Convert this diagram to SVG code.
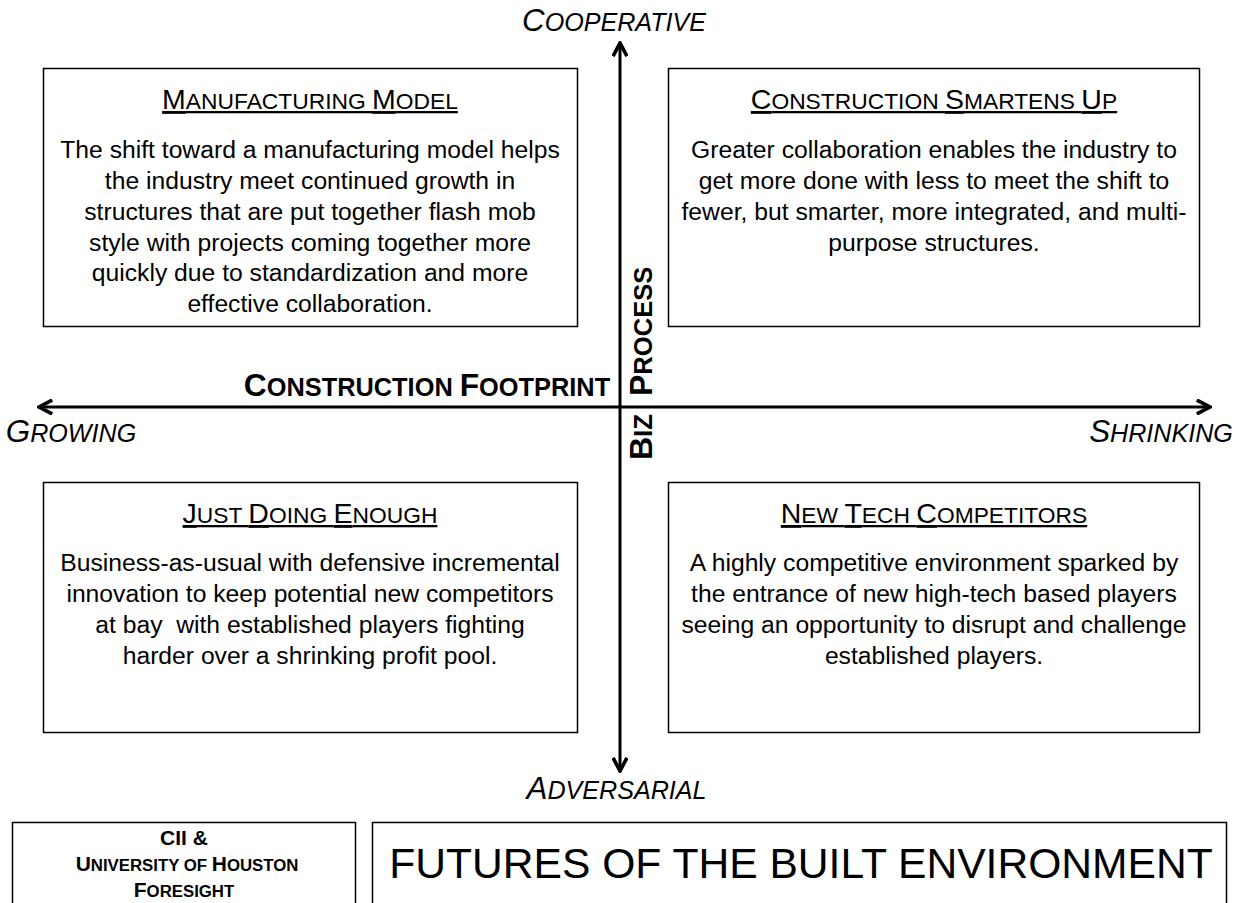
<svg xmlns="http://www.w3.org/2000/svg" width="1234" height="903" viewBox="0 0 1234 903">
<style>
text{font-family:"Liberation Sans",Arial,sans-serif;fill:#000;text-anchor:middle}
.box{fill:#fff;stroke:#000;stroke-width:1.5}
.body{font-size:24.7px;white-space:pre}
.head{font-size:28.5px;text-decoration:underline}
.axis{font-size:31.4px;font-style:italic}
.bold{font-size:31.7px;font-weight:bold}
.v{font-size:32px;font-weight:bold;text-anchor:start}
.small{font-size:21px;font-weight:bold}
.s{font-size:80%}
.conn{stroke:#000;stroke-width:3;fill:none;marker-start:url(#a);marker-end:url(#a)}
</style>
<defs>
<marker id="a" viewBox="0 0 10 10" refX="9" refY="5" markerWidth="5.5" markerHeight="5.5" orient="auto-start-reverse"><path d="M1 0.8L9 5L1 9.2" fill="none" stroke="#000" stroke-width="2.2"/></marker>
</defs>
<rect width="1234" height="903" fill="#fff"/>
<g id="connectors">
<line class="conn" x1="620" y1="43" x2="620" y2="771"/>
<line class="conn" x1="39" y1="407" x2="1210" y2="407"/>
</g>
<g id="axis-cooperative"><text class="axis" x="614" y="31">C<tspan class="s">OOPERATIVE</tspan></text></g>
<g id="axis-adversarial"><text class="axis" x="616.500" y="799">A<tspan class="s">DVERSARIAL</tspan></text></g>
<g id="axis-growing"><text class="axis" x="71" y="442">G<tspan class="s">ROWING</tspan></text></g>
<g id="axis-shrinking"><text class="axis" x="1161" y="442">S<tspan class="s">HRINKING</tspan></text></g>
<g id="axis-footprint"><text class="bold" x="427" y="396">C<tspan class="s">ONSTRUCTION </tspan>F<tspan class="s">OOTPRINT</tspan></text></g>
<g id="axis-process"><text class="v" transform="translate(652 460) rotate(-90)">B<tspan class="s">IZ</tspan></text><text class="v" transform="translate(652 396) rotate(-90)">P<tspan class="s">ROCESS</tspan></text></g>
<g id="manufacturing">
<rect class="box" x="43.500" y="68.500" width="534" height="258"/>
<text class="head" x="310" y="109">M<tspan class="s">ANUFACTURING </tspan>M<tspan class="s">ODEL</tspan></text>
<text class="body" x="310" y="158">The shift toward a manufacturing model helps</text>
<text class="body" x="310" y="189">the industry meet continued growth in</text>
<text class="body" x="310" y="220">structures that are put together flash mob</text>
<text class="body" x="310" y="251">style with projects coming together more</text>
<text class="body" x="310" y="281">quickly due to standardization and more</text>
<text class="body" x="310" y="312">effective collaboration.</text>
</g>
<g id="smartens">
<rect class="box" x="668.500" y="68.500" width="531" height="258"/>
<text class="head" x="934" y="109">C<tspan class="s">ONSTRUCTION </tspan>S<tspan class="s">MARTENS </tspan>U<tspan class="s">P</tspan></text>
<text class="body" x="934" y="158">Greater collaboration enables the industry to</text>
<text class="body" x="934" y="189">get more done with less to meet the shift to</text>
<text class="body" x="934" y="220">fewer, but smarter, more integrated, and multi-</text>
<text class="body" x="934" y="251">purpose structures.</text>
</g>
<g id="just-doing">
<rect class="box" x="43.500" y="482.500" width="534" height="250"/>
<text class="head" x="310" y="523">J<tspan class="s">UST </tspan>D<tspan class="s">OING </tspan>E<tspan class="s">NOUGH</tspan></text>
<text class="body" x="310" y="571">Business-as-usual with defensive incremental</text>
<text class="body" x="310" y="602">innovation to keep potential new competitors</text>
<text class="body" x="310" y="633">at bay  with established players fighting</text>
<text class="body" x="310" y="664">harder over a shrinking profit pool.</text>
</g>
<g id="new-tech">
<rect class="box" x="668.500" y="482.500" width="531" height="250"/>
<text class="head" x="934" y="523">N<tspan class="s">EW </tspan>T<tspan class="s">ECH </tspan>C<tspan class="s">OMPETITORS</tspan></text>
<text class="body" x="934" y="571">A highly competitive environment sparked by</text>
<text class="body" x="934" y="602">the entrance of new high-tech based players</text>
<text class="body" x="934" y="633">seeing an opportunity to disrupt and challenge</text>
<text class="body" x="934" y="664">established players.</text>
</g>
<g id="credit">
<rect class="box" x="12.500" y="822.500" width="343" height="90"/>
<text class="small" x="184" y="845">CII &amp;</text>
<text class="small" x="187" y="871">U<tspan class="s">NIVERSITY OF </tspan>H<tspan class="s">OUSTON</tspan></text>
<text class="small" x="184" y="897">F<tspan class="s">ORESIGHT</tspan></text>
</g>
<g id="title">
<rect class="box" x="372.500" y="822.500" width="854" height="90"/>
<text x="801" y="878" style="font-size:42.6px">FUTURES OF THE BUILT ENVIRONMENT</text>
</g>
</svg>
